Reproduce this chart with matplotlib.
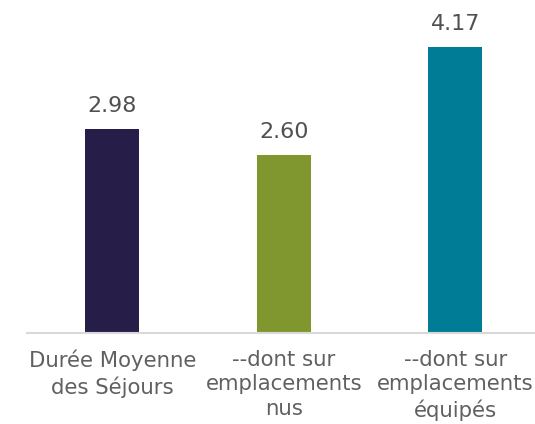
import matplotlib
matplotlib.use("Agg")
import matplotlib.pyplot as plt

categories = ["Durée Moyenne\ndes Séjours", "--dont sur\nemplacements\nnus", "--dont sur\nemplacements\néquipés"]
values = [2.98, 2.60, 4.17]
colors = ["#261E48", "#80962F", "#007C96"]

fig = plt.figure(figsize=(5.35, 4.24), dpi=100)
ax = fig.add_axes([26.5/535, (424-333)/424, 514.5/535, 308.7/424])
x = list(range(len(values)))
ax.bar(x, values, width=0.315, color=colors, zorder=2)
ax.set_xlim(-0.5, 2.5)
ax.set_ylim(0, 4.5)
for xi, v in zip(x, values):
    ax.annotate(f"{v:.2f}", (xi, v), xytext=(0, 9), textcoords="offset points",
                ha="center", va="bottom", fontsize=16, color="#505050", family="DejaVu Sans")
ax.set_xticks(x)
ax.set_xticklabels(categories, fontsize=15.3, color="#606060", linespacing=1.3, family="DejaVu Sans")
ax.tick_params(axis="x", length=0, pad=12)
ax.set_yticks([])
for s in ["top", "right", "left"]:
    ax.spines[s].set_visible(False)
ax.spines["bottom"].set_color("#D9D9D9")
ax.spines["bottom"].set_linewidth(1.5)
fig.savefig("out.png", dpi=100)
